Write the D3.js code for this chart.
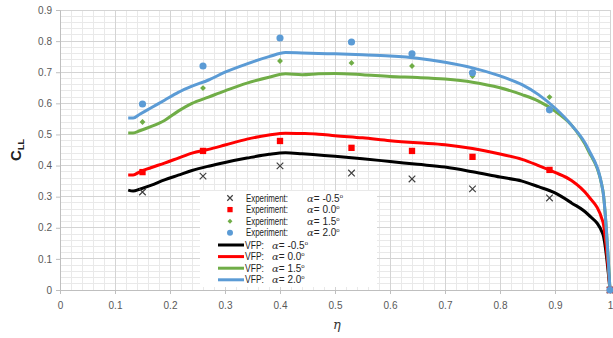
<!DOCTYPE html>
<html>
<head>
<meta charset="utf-8">
<script src="https://cdn.jsdelivr.net/npm/d3@7"></script>
<style>
body { margin: 0; background: #fff; }
svg { display: block; }
</style>
</head>
<body>
<script>
var width = 613;
var height = 338;

// experiment stations
var expEta = [0.15, 0.26, 0.40, 0.53, 0.64, 0.75, 0.89, 1.0];
var expM05 = [0.315, 0.366, 0.399, 0.376, 0.357, 0.325, 0.296, 0];
var exp00 = [0.379, 0.447, 0.479, 0.457, 0.447, 0.428, 0.386, 0];
var exp15 = [0.54, 0.649, 0.736, 0.73, 0.72, 0.688, 0.62, 0];
var exp20 = [0.598, 0.72, 0.81, 0.797, 0.759, 0.698, 0.579, 0];

// VFP curves
var vfpEta = [0.124, 0.133, 0.145, 0.165, 0.19, 0.215, 0.24, 0.27, 0.3, 0.34, 0.38, 0.41, 0.44, 0.47, 0.5, 0.55, 0.6, 0.65, 0.7, 0.75, 0.8, 0.84, 0.87, 0.9, 0.93, 0.96, 0.987, 1.0];
var vfpM05 = [0.321, 0.318, 0.324, 0.336, 0.354, 0.369, 0.384, 0.398, 0.41, 0.424, 0.436, 0.441, 0.438, 0.434, 0.43, 0.422, 0.413, 0.404, 0.395, 0.38, 0.363, 0.35, 0.332, 0.312, 0.28, 0.243, 0.18, 0];
var vfp00 = [0.37, 0.37, 0.38, 0.393, 0.408, 0.424, 0.44, 0.452, 0.466, 0.485, 0.498, 0.504, 0.503, 0.501, 0.496, 0.489, 0.48, 0.473, 0.467, 0.455, 0.437, 0.42, 0.4, 0.378, 0.352, 0.303, 0.22, 0];
var vfp15 = [0.505, 0.505, 0.512, 0.525, 0.545, 0.575, 0.6, 0.62, 0.64, 0.665, 0.684, 0.695, 0.692, 0.695, 0.696, 0.692, 0.686, 0.683, 0.678, 0.668, 0.65, 0.628, 0.607, 0.575, 0.53, 0.45, 0.32, 0];
var vfp20 = [0.553, 0.553, 0.565, 0.585, 0.61, 0.635, 0.655, 0.675, 0.7, 0.727, 0.75, 0.763, 0.762, 0.76, 0.759, 0.756, 0.752, 0.745, 0.732, 0.714, 0.688, 0.66, 0.628, 0.585, 0.53, 0.455, 0.32, 0];

var alphaLabels = ["-0.5", "0.0", "1.5", "2.0"];
var xTicks = [0, 0.1, 0.2, 0.3, 0.4, 0.5, 0.6, 0.7, 0.8, 0.9, 1];
var yTicks = [0, 0.1, 0.2, 0.3, 0.4, 0.5, 0.6, 0.7, 0.8, 0.9];

var colors = ["#000000", "#ff0000", "#70ad47", "#5b9bd5"];

var svg = d3.select("body").append("svg")
    .attr("width", width)
    .attr("height", height);

var x = d3.scaleLinear().domain([0, 1]).range([60, 610]);
var y = d3.scaleLinear().domain([0, 0.9]).range([290, 10]);

//minor grid
var minorX = d3.range(0, 1.0001, 0.02);
var minorY = d3.range(0, 0.9001, 0.02);
svg.append("g").selectAll("line").data(minorX).join("line")
    .attr("x1", d => x(d)).attr("x2", d => x(d))
    .attr("y1", y(0)).attr("y2", y(0.9))
    .attr("stroke", "#e9e9e9").attr("stroke-width", 1).attr("shape-rendering", "crispEdges");
svg.append("g").selectAll("line").data(minorY).join("line")
    .attr("x1", x(0)).attr("x2", x(1))
    .attr("y1", d => y(d)).attr("y2", d => y(d))
    .attr("stroke", "#e9e9e9").attr("stroke-width", 1).attr("shape-rendering", "crispEdges");

//major grid
svg.append("g").selectAll("line").data(xTicks).join("line")
    .attr("x1", d => x(d)).attr("x2", d => x(d))
    .attr("y1", y(0)).attr("y2", y(0.9))
    .attr("stroke", "#d4d4d4").attr("shape-rendering", "crispEdges");
svg.append("g").selectAll("line").data(yTicks).join("line")
    .attr("x1", x(0)).attr("x2", x(1))
    .attr("y1", d => y(d)).attr("y2", d => y(d))
    .attr("stroke", "#d4d4d4").attr("shape-rendering", "crispEdges");

//axes
var xAxis = svg.append("g")
    .attr("transform", "translate(0," + y(0) + ")")
    .call(d3.axisBottom(x).tickValues(xTicks).tickSize(4).tickPadding(8)
        .tickFormat(d => d === 0 || d === 1 ? d3.format("d")(d) : d3.format(".1f")(d)));
var yAxis = svg.append("g")
    .attr("transform", "translate(" + x(0) + ",0)")
    .call(d3.axisLeft(y).tickValues(yTicks).tickSize(4).tickPadding(4)
        .tickFormat(d => d === 0 ? "0" : d3.format(".1f")(d)));
[xAxis, yAxis].forEach(function(a) {
    a.select(".domain").attr("stroke", "#bfbfbf");
    a.selectAll(".tick line").attr("stroke", "#bfbfbf");
    a.selectAll("text").attr("fill", "#595959")
        .attr("font-family", "Liberation Sans, Arial, sans-serif")
        .attr("font-size", "10px");
});

//VFP lines
var vfpSeries = [vfpM05, vfp00, vfp15, vfp20];
var line = d3.line()
    .x((d, i) => x(vfpEta[i]))
    .y(d => y(d))
    .curve(d3.curveMonotoneX);
svg.append("g").selectAll("path").data(vfpSeries).join("path")
    .attr("d", line)
    .attr("fill", "none")
    .attr("stroke", (d, i) => colors[i])
    .attr("stroke-width", 3)
    .attr("stroke-linejoin", "round");

//experiment markers
var expSeries = [expM05, exp00, exp15, exp20];
var symbols = [d3.symbolTimes, d3.symbolSquare, d3.symbolDiamond2, d3.symbolCircle];
var sizes = [30, 40, 22, 40];
function marker(sel, i) {
    sel.attr("d", d3.symbol().type(symbols[i]).size(sizes[i]))
        .attr("fill", i === 0 ? "none" : colors[i])
        .attr("stroke", i === 0 ? "#404040" : "none")
        .attr("stroke-width", i === 0 ? 1.2 : 0);
}
expSeries.forEach(function(s, i) {
    svg.append("g").selectAll("path").data(s).join("path")
        .attr("transform", (d, j) => "translate(" + x(expEta[j]) + "," + y(d) + ")")
        .call(marker, i);
});

//legend
var lg = svg.append("g");
lg.append("rect").attr("x", 200).attr("y", 191).attr("width", 177).attr("height", 96).attr("fill", "#fff");
var font = "Liberation Sans, Arial, sans-serif";
function alphaText(g, xa, yy, label) {
    var t = g.append("text").attr("x", xa).attr("y", yy)
        .attr("font-family", font).attr("font-size", "10px").attr("fill", "#222");
    t.append("tspan").text("\u03b1").attr("font-family", "DejaVu Serif, serif").attr("font-style", "italic").attr("fill", "#333");
    t.append("tspan").text("= " + label);
    t.append("tspan").text("o").attr("font-size", "6px").attr("dy", -4);
}
alphaLabels.forEach(function(lab, i) {
    var yy = 198 + i * 11.6;
    lg.append("path").attr("transform", "translate(230," + yy + ")").call(marker, i)
        .attr("d", d3.symbol().type(symbols[i]).size(sizes[i] * 0.7));
    lg.append("text").attr("x", 246).attr("y", yy + 3.5)
        .attr("font-family", font).attr("font-size", "10px").attr("fill", "#222")
        .attr("textLength", 42).attr("lengthAdjust", "spacingAndGlyphs")
        .text("Experiment:");
    alphaText(lg, 307, yy + 3.5, lab);
});
alphaLabels.forEach(function(lab, i) {
    var yy = 245 + i * 11.6;
    lg.append("line").attr("x1", 218).attr("x2", 244).attr("y1", yy).attr("y2", yy)
        .attr("stroke", colors[i]).attr("stroke-width", 3);
    lg.append("text").attr("x", 245).attr("y", yy + 3.5)
        .attr("font-family", font).attr("font-size", "10px").attr("fill", "#222")
        .attr("textLength", 19).attr("lengthAdjust", "spacingAndGlyphs")
        .text("VFP:");
    alphaText(lg, 272, yy + 3.5, lab);
});

//axis titles
svg.append("text")
    .attr("x", 337).attr("y", 329)
    .attr("text-anchor", "middle")
    .attr("font-family", "DejaVu Serif, serif").attr("font-style", "italic")
    .attr("font-size", "13px").attr("fill", "#333")
    .text("\u03b7");
var yl = svg.append("text")
    .attr("transform", "translate(21,150) rotate(-90)")
    .attr("text-anchor", "middle")
    .attr("font-family", font).attr("font-weight", "bold")
    .attr("font-size", "15px").attr("fill", "#222");
yl.append("tspan").text("C");
yl.append("tspan").text("LL").attr("font-size", "9px").attr("dy", 3);
</script>
</body>
</html>
